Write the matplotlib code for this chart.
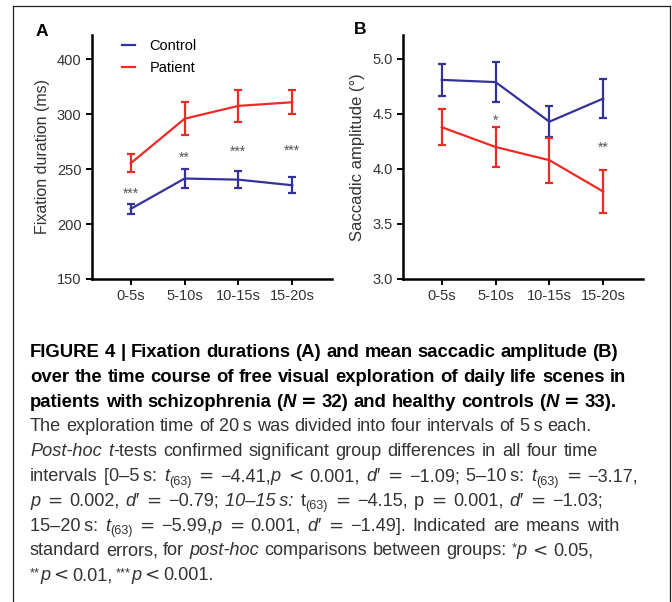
"""Figure 4 reproduction: fixation duration and saccadic amplitude over time,
patients vs controls, plus the caption block underneath."""

import re

import matplotlib
matplotlib.use("Agg")
import matplotlib.pyplot as plt
from matplotlib import font_manager
from matplotlib.lines import Line2D

# ---- data ----
INTERVALS = ["0-5s", "5-10s", "10-15s", "15-20s"]

FIX_CONTROL = [213.8, 241.4, 240.4, 235.3]
FIX_CONTROL_SE = [4.8, 8.7, 7.7, 7.1]
FIX_PATIENT = [255.3, 295.8, 307.5, 310.8]
FIX_PATIENT_SE = [8.0, 15.2, 14.5, 10.8]

SAC_CONTROL = [4.81, 4.79, 4.43, 4.64]
SAC_CONTROL_SE = [0.148, 0.18, 0.143, 0.178]
SAC_PATIENT = [4.38, 4.20, 4.08, 3.795]
SAC_PATIENT_SE = [0.164, 0.18, 0.205, 0.195]

# significance stars: (interval index, baseline y, label)
FIX_STARS = [(0, 224, "***"), (1, 257, "**"), (2, 262, "***"), (3, 262.8, "***")]
SAC_STARS = [(1, 4.40, "*"), (3, 4.16, "**")]

# the original axis prints "400" where 350 belongs; keep it as published
FIX_TICKS = [150, 200, 250, 300, 350]
FIX_TICKLABELS = ["150", "200", "250", "300", "400"]
SAC_TICKS = [3.0, 3.5, 4.0, 4.5, 5.0]

BLUE = "#34329a"
RED = "#ee2a26"

W, H = 672, 602


def pick(*names):
    for n in names:
        try:
            font_manager.findfont(n, fallback_to_default=False)
            return n
        except ValueError:
            continue
    return "DejaVu Sans"


PLOT_FONT = pick("Liberation Sans", "Arial", "DejaVu Sans")
CAP_FONT = PLOT_FONT

plt.rcParams["font.family"] = [PLOT_FONT, "DejaVu Sans"]


def px_axes(fig, left, top, right, bottom):
    return fig.add_axes([left / W, 1 - bottom / H, (right - left) / W, (bottom - top) / H])


def style_axes(ax):
    for side in ("top", "right"):
        ax.spines[side].set_visible(False)
    for side in ("left", "bottom"):
        ax.spines[side].set_linewidth(1.8)
    ax.tick_params(width=1.4, length=4, labelsize=10.5, labelcolor="#333333", color="black")
    ax.set_xticks(range(len(INTERVALS)))
    ax.set_xticklabels(INTERVALS)
    ax.set_xlim(-0.72, 3.74)


def draw_series(ax, y, se, colour, label):
    ax.errorbar(range(len(y)), y, yerr=se, color=colour, lw=1.6,
                elinewidth=1.6, capsize=3.2, capthick=1.6, label=label)


def draw_stars(ax, stars):
    for i, y, s in stars:
        ax.text(i, y, s, ha="center", va="baseline", fontsize=10, color="#555555")


fig = plt.figure(figsize=(W / 100, H / 100), dpi=100)

# panel A
ax_a = px_axes(fig, 92, 35, 332, 279)
style_axes(ax_a)
draw_series(ax_a, FIX_CONTROL, FIX_CONTROL_SE, BLUE, "Control")
draw_series(ax_a, FIX_PATIENT, FIX_PATIENT_SE, RED, "Patient")
ax_a.set_ylim(150, 372)
ax_a.set_yticks(FIX_TICKS)
ax_a.set_yticklabels(FIX_TICKLABELS)
ax_a.set_ylabel("Fixation duration (ms)", fontsize=11.5, color="#333333", labelpad=5)
draw_stars(ax_a, FIX_STARS)
leg_handles = [Line2D([], [], color=BLUE, lw=1.6), Line2D([], [], color=RED, lw=1.6)]
ax_a.legend(leg_handles, ["Control", "Patient"], loc="upper left",
            bbox_to_anchor=(0.125, 0.982), borderpad=0, borderaxespad=0,
            frameon=False, fontsize=10.5, handlelength=0.9,
            handletextpad=1.0, labelspacing=0.55)

# panel B
ax_b = px_axes(fig, 403, 35, 643, 279)
style_axes(ax_b)
draw_series(ax_b, SAC_CONTROL, SAC_CONTROL_SE, BLUE, "Control")
draw_series(ax_b, SAC_PATIENT, SAC_PATIENT_SE, RED, "Patient")
ax_b.set_ylim(3.0, 5.218)
ax_b.set_yticks(SAC_TICKS)
ax_b.set_yticklabels([f"{t:.1f}" for t in SAC_TICKS])
ax_b.set_ylabel("Saccadic amplitude (°)", fontsize=12, color="#333333", labelpad=5)
draw_stars(ax_b, SAC_STARS)

fig.text(42 / W, 1 - 31 / H, "A", fontsize=12.5, fontweight="bold", ha="center", va="center")
fig.text(360 / W, 1 - 30 / H, "B", fontsize=12.5, fontweight="bold", ha="center", va="center")

# outer frame (open at the bottom)
frame = dict(color="#222222", lw=0.9, transform=fig.transFigure)
fig.add_artist(Line2D([13 / W, 13 / W], [0, 1 - 6 / H], **frame))
fig.add_artist(Line2D([13 / W, 670 / W], [1 - 6 / H, 1 - 6 / H], **frame))
fig.add_artist(Line2D([670 / W, 670 / W], [1 - 6 / H, 0], **frame))

# ---- caption: rich text laid out word by word ----
STYLES = {
    "b": dict(fontweight="bold", color="black"),
    "bi": dict(fontweight="bold", fontstyle="italic", color="black"),
    "n": dict(color="#333333"),
    "i": dict(fontstyle="italic", color="#333333"),
    "sub": dict(color="#333333"),
    "sup": dict(color="#333333"),
}
SCALE = {"sub": 0.7, "sup": 0.7}
SHIFT = {"sub": 3.5, "sup": -4.0}  # px, positive = down
MATH_OPS = {"=", "<"}  # drawn with the wider DejaVu glyphs, like the typeset original

TS = "\u2009"  # thin space
CAPTION = [
    [("FIGURE 4 | Fixation durations (A) and mean saccadic amplitude (B)", "b")],
    [("over the time course of free visual exploration of daily life scenes in", "b")],
    [("patients with schizophrenia (", "b"), ("N", "bi"), (" = 32) and healthy controls (", "b"),
     ("N", "bi"), (" = 33).", "b")],
    [(f"The exploration time of 20{TS}s was divided into four intervals of 5{TS}s each.", "n")],
    [("Post-hoc t", "i"), ("-tests confirmed significant group differences in all four time", "n")],
    [(f"intervals [0–5{TS}s: ", "n"), ("t", "i"), ("(63)", "sub"), (" = −4.41,", "n"), ("p", "i"),
     (" < 0.001, ", "n"), ("d′", "i"), (f" = −1.09; 5–10{TS}s: ", "n"), ("t", "i"), ("(63)", "sub"),
     (" = −3.17,", "n")],
    [("p", "i"), (" = 0.002, ", "n"), ("d′", "i"), (" = −0.79; ", "n"), (f"10–15{TS}s:", "i"),
     (" t", "n"), ("(63)", "sub"), (" = −4.15, p = 0.001, ", "n"), ("d′", "i"),
     (" = −1.03;", "n")],
    [(f"15–20{TS}s: ", "n"), ("t", "i"), ("(63)", "sub"), (" = −5.99,", "n"), ("p", "i"),
     (" = 0.001, ", "n"), ("d′", "i"), (" = −1.49]. Indicated are means with", "n")],
    [("standard errors, for ", "n"), ("post-hoc", "i"), (" comparisons between groups: ", "n"),
     ("*", "sup"), ("p", "i"), (" < 0.05,", "n")],
    [("**", "sup"), ("p", "i"), (" < 0.01, ", "n"), ("***", "sup"), ("p", "i"), (" < 0.001.", "n")],
]
# right edge (px) of every caption line in the reference; word gaps stretch towards it
LINE_RIGHT = [618, 626, 615, 576, 598, 652, 605, 635, 593, 182]
LINE_Y0 = 357  # baseline of the first caption line, px from top
LINE_STEP = 24.8
CAP_X0 = 30
BOLD_FIT = {0: 588}                  # caption line -> px width in the reference
PLAIN_FIT = {3: 546, 4: 568, 8: 563}

renderer = fig.canvas.get_renderer()


def text_kw(s, st, size):
    kw = dict(fontsize=size * SCALE.get(st, 1.0), family=[CAP_FONT, "DejaVu Sans"])
    kw.update(STYLES[st])
    if s in MATH_OPS:
        kw["family"] = "DejaVu Sans"
        kw["fontweight"] = "normal" if st not in ("b", "bi") else "bold"
    return kw


def seg_width(s, st, size):
    kw = text_kw(s, st, size)
    kw.pop("color")
    t1 = fig.text(0, 0, "x" + s + "x", **kw)
    t2 = fig.text(0, 0, "xx", **kw)
    w = t1.get_window_extent(renderer).width - t2.get_window_extent(renderer).width
    t1.remove()
    t2.remove()
    return w


def fitted_size(fit):
    measured = sum(sum(seg_width(s, st, 12) for s, st in CAPTION[r]) for r in fit)
    return 12 * sum(fit.values()) / measured


bold_size = fitted_size(BOLD_FIT)
plain_size = fitted_size(PLAIN_FIT)

for row, segments in enumerate(CAPTION):
    size = bold_size if row < 3 else plain_size
    # split into words and runs of spaces
    tokens = []
    for s, st in segments:
        for piece in re.split(r"( +)", s):
            if not piece:
                continue
            if piece.startswith(" "):
                tokens.append((None, len(piece)))
            else:
                tokens.append((piece, st))
    words_w = sum(seg_width(p, st, size) for p, st in tokens if p is not None)
    n_spaces = sum(st for p, st in tokens if p is None)
    space_w = seg_width(" ", segments[0][1], size)
    target = LINE_RIGHT[row] - CAP_X0
    gap = (target - words_w) / n_spaces if n_spaces else space_w
    gap = min(max(gap, space_w), space_w * 1.35)

    x = CAP_X0
    base = LINE_Y0 + row * LINE_STEP
    for p, st in tokens:
        if p is None:
            x += gap * st
            continue
        y = base + SHIFT.get(st, 0)
        fig.text(x / W, 1 - y / H, p, va="baseline", **text_kw(p, st, size))
        x += seg_width(p, st, size)

fig.savefig("out.png", dpi=100)
